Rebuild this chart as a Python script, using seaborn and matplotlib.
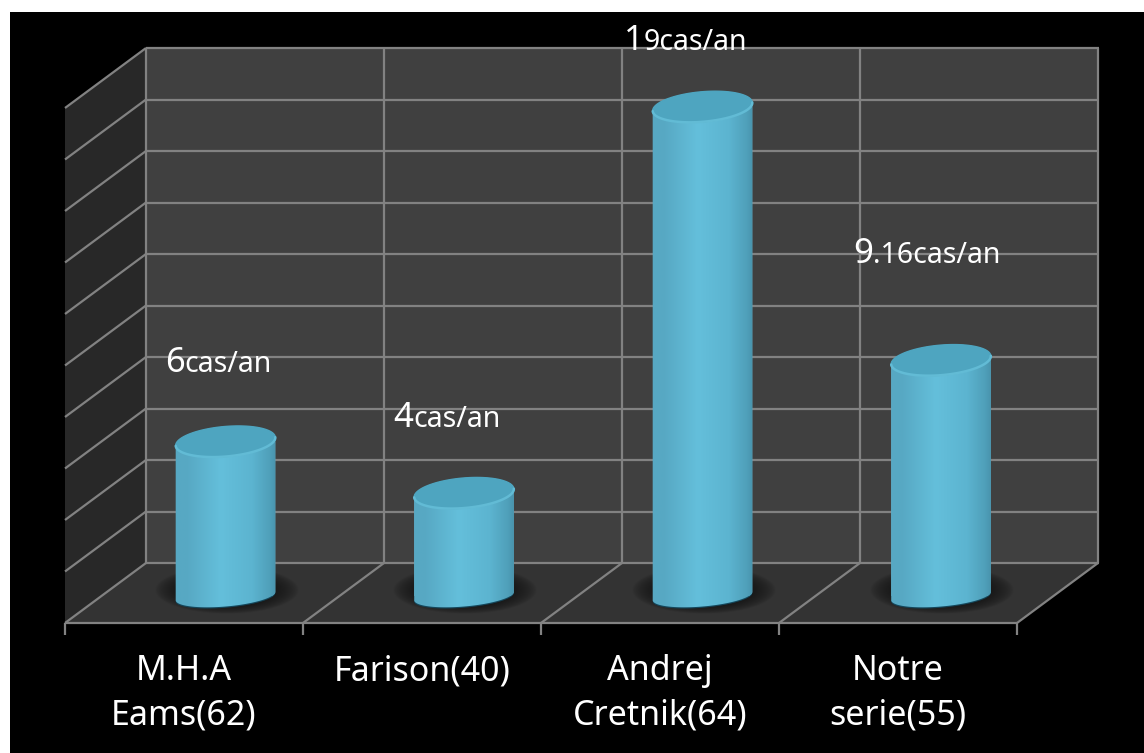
import numpy as np
import pandas as pd
import matplotlib
matplotlib.use("Agg")
import matplotlib.pyplot as plt
import seaborn as sns
from matplotlib.colors import LinearSegmentedColormap
from matplotlib.patches import Polygon, Rectangle

# Cases per year reported by each series
studies = ["M.H.A\nEams(62)", "Farison(40)", "Andrej\nCretnik(64)", "Notre\nserie(55)"]
cases_per_year = [6, 4, 19, 9.16]
value_labels = ["6cas/an", "4cas/an", "19cas/an", "9.16cas/an"]
grid_values = list(range(0, 21, 2))

# Layout of the pseudo-3D box, in pixels
W, H = 1144, 753
PX_X, PX_Y = 238.5, 25.75      # pixels per category / per unit
X0, Y0 = 225.5, 596            # pixel position of first bar centre, value 0
FRONT_L, FRONT_B = 65, 623
BACK_L, BACK_B = 146, 563
TICK_STEP = 238
N = len(studies)
FRAME = "#828282"
LW = 1.6


def px(x, y):
    """Pixel position to data coordinates."""
    return (x - X0) / PX_X, (Y0 - y) / PX_Y


def ellipse(cx, cy, a=50, b=15, tilt=5, t=None):
    """Tilted ellipse outline around a data point, sized in pixels."""
    if t is None:
        t = np.linspace(0, 2 * np.pi, 120)
    th = np.radians(tilt)
    dx = a * np.cos(t) * np.cos(th) - b * np.sin(t) * np.sin(th)
    dy = a * np.cos(t) * np.sin(th) + b * np.sin(t) * np.cos(th)
    return np.column_stack([cx + dx / PX_X, cy + dy / PX_Y])


sns.set_theme(style="white")
plt.rcParams["font.family"] = ["Noto Sans", "DejaVu Sans"]

fig = plt.figure(figsize=(W / 100, H / 100), dpi=100, facecolor="white")
ax = fig.add_axes([0, 0, 1, 1])

df = pd.DataFrame({"study": studies, "cases": cases_per_year})
sns.barplot(data=df, x="study", y="cases", order=studies, color="#5cb4d0",
            width=100 / PX_X, errorbar=None, ax=ax, zorder=5, linewidth=0)
bars = list(ax.patches)

# Page background
x_a, y_a = px(10, H)
x_b, y_b = px(W, 12)
ax.add_patch(Rectangle((x_a, y_a), x_b - x_a, y_b - y_a, fc="black", ec="none", zorder=0))


def poly(points, color, z=1):
    ax.add_patch(Polygon([px(*p) for p in points], closed=True, fc=color, ec="none", zorder=z))


def seg(p, q, color=FRAME, lw=LW, z=2):
    a, b = px(*p), px(*q)
    ax.plot([a[0], b[0]], [a[1], b[1]], color=color, lw=lw, zorder=z, solid_capstyle="butt")


box_h = grid_values[-1] * PX_Y
back_r = BACK_L + N * TICK_STEP + 1
front_r = FRONT_L + N * TICK_STEP

# Walls and floor
poly([(BACK_L, BACK_B), (back_r, BACK_B), (back_r, BACK_B - box_h), (BACK_L, BACK_B - box_h)], "#404040")
poly([(FRONT_L, FRONT_B), (BACK_L, BACK_B), (BACK_L, BACK_B - box_h), (FRONT_L, FRONT_B - box_h)], "#282828")
poly([(FRONT_L, FRONT_B), (BACK_L, BACK_B), (back_r, BACK_B), (front_r, FRONT_B)], "#333333")

# Horizontal grid: across the back wall and along the side wall
for v in grid_values:
    d = v * PX_Y
    seg((BACK_L, BACK_B - d), (back_r, BACK_B - d))
    if v > 0:
        seg((FRONT_L, FRONT_B - d), (BACK_L, BACK_B - d))

# Category divisions: ticks, floor diagonals, back wall verticals
for i in range(N + 1):
    fx = FRONT_L + i * TICK_STEP
    bx = fx + (BACK_L - FRONT_L)
    seg((fx, FRONT_B), (fx, FRONT_B + 12))
    seg((fx, FRONT_B), (bx, BACK_B))
    seg((bx, BACK_B), (bx, BACK_B - box_h))
seg((FRONT_L, FRONT_B), (front_r, FRONT_B))

# Cylinders built on the seaborn bars
body_cmap = LinearSegmentedColormap.from_list(
    "cyl", [(0, "#57a9c4"), (0.12, "#57a8c3"), (0.45, "#64bfdb"),
            (0.75, "#5cb4d0"), (0.93, "#4f9fb9"), (1, "#468fa8")])
gradient = np.linspace(0, 1, 256).reshape(1, -1)

# Soft contact shadow
gx, gy = np.meshgrid(np.linspace(-1, 1, 160), np.linspace(-1, 1, 60))
falloff = np.clip(1 - (gx ** 2 + gy ** 2), 0, 1) ** 0.7
shadow = np.zeros(gx.shape + (4,))
shadow[..., 3] = 0.8 * falloff

for bar in bars:
    cx = bar.get_x() + bar.get_width() / 2
    top = bar.get_height()

    sx, sy = 72 / PX_X, 24 / PX_Y
    ax.imshow(shadow, extent=(cx + 1 / PX_X - sx, cx + 1 / PX_X + sx, -sy + 0.25, sy + 0.25),
              aspect="auto", zorder=4, interpolation="bilinear")

    ax.add_patch(Polygon(ellipse(cx, -1.2 / PX_Y, b=10.5), closed=True, fc="#14465a", ec="none", zorder=4.5))

    lower = ellipse(cx, 0, b=10.5, t=np.linspace(np.pi, 2 * np.pi, 60))
    upper = ellipse(cx, top, t=np.linspace(0, np.pi, 60))
    outline = Polygon(np.vstack([lower, upper]), closed=True, transform=ax.transData)
    bar.set_clip_path(outline)
    im = ax.imshow(gradient, cmap=body_cmap, aspect="auto", zorder=6,
                   extent=(cx - 52 / PX_X, cx + 52 / PX_X, -2, top + 2))
    im.set_clip_path(outline)

    ax.add_patch(Polygon(ellipse(cx, top), closed=True, fc="#4ea5c0", ec="#4ea5c0", lw=1, zorder=7))
    rim = ellipse(cx, top, t=np.linspace(np.pi, 2 * np.pi, 60))
    ax.plot(rim[:, 0], rim[:, 1], color="#62bbd5", lw=1.8, zorder=8)

# Category names under the front edge
for i, name in enumerate(studies):
    x, y = px(FRONT_L + (i + 0.5) * TICK_STEP, 654)
    ax.text(x, y, name, ha="center", va="top", color="white", fontsize=24.5, linespacing=1.39, zorder=10)

# Value labels: leading digit set larger than the rest
label_anchor = [(165, 372), (393, 427), (624, 50), (853, 263)]
for text, (lx, ly) in zip(value_labels, label_anchor):
    x, y = px(lx, ly)
    lead = ax.text(x, y, text[0], color="white", fontsize=25, va="baseline", ha="left", zorder=10)
    ax.annotate(text[1:], xy=(1, y), xycoords=(lead, ax.transData), color="white",
                fontsize=20.5, va="baseline", ha="left", zorder=10)

ax.set_xlim(px(0, 0)[0], px(W, 0)[0])
ax.set_ylim(px(0, H)[1], px(0, 0)[1])
ax.set_axis_off()

fig.savefig("out.png", dpi=100, facecolor="white")
